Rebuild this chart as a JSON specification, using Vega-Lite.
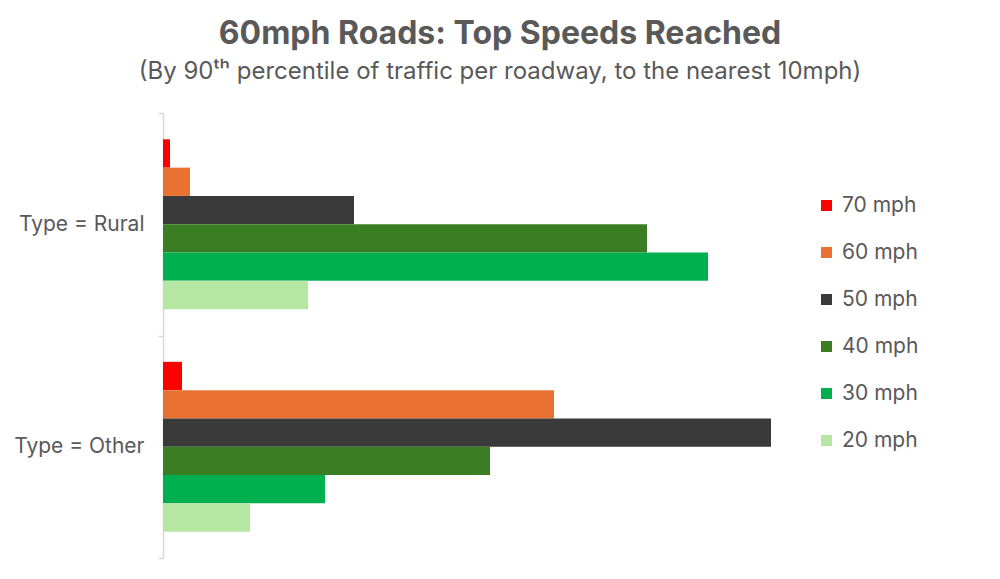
{
  "$schema": "https://vega.github.io/schema/vega-lite/v6.json",
  "autosize": {"type": "none"},
  "padding": {"left": 163, "top": 113, "right": 217, "bottom": 21},
  "width": 620,
  "height": 445,
  "title": {
    "text": "60mph Roads: Top Speeds Reached",
    "subtitle": "(By 90ᵗʰ percentile of traffic per roadway, to the nearest 10mph)",
    "anchor": "middle",
    "frame": "group",
    "dx": 27,
    "offset": 17,
    "limit": 1000,
    "font": "Inter",
    "fontSize": 32,
    "fontWeight": "bold",
    "color": "#595959",
    "subtitleFont": "Inter",
    "subtitleFontSize": 24,
    "subtitleColor": "#595959",
    "subtitlePadding": 9
  },
  "data": {
    "values": [
      {"type": "Type = Rural", "speed": "70 mph", "count": 7},
      {"type": "Type = Rural", "speed": "60 mph", "count": 27},
      {"type": "Type = Rural", "speed": "50 mph", "count": 191},
      {"type": "Type = Rural", "speed": "40 mph", "count": 484},
      {"type": "Type = Rural", "speed": "30 mph", "count": 545},
      {"type": "Type = Rural", "speed": "20 mph", "count": 145},
      {"type": "Type = Other", "speed": "70 mph", "count": 19},
      {"type": "Type = Other", "speed": "60 mph", "count": 391},
      {"type": "Type = Other", "speed": "50 mph", "count": 608},
      {"type": "Type = Other", "speed": "40 mph", "count": 327},
      {"type": "Type = Other", "speed": "30 mph", "count": 162},
      {"type": "Type = Other", "speed": "20 mph", "count": 87}
    ]
  },
  "mark": {"type": "bar"},
  "encoding": {
    "y": {
      "field": "type",
      "type": "nominal",
      "sort": ["Type = Rural", "Type = Other"],
      "scale": {"paddingInner": 0, "paddingOuter": 0},
      "axis": {
        "title": null,
        "ticks": true,
        "tickBand": "extent",
        "domainColor": "#d9d9d9",
        "domainWidth": 1.5,
        "tickColor": "#d9d9d9",
        "tickWidth": 1.5,
        "tickSize": 5,
        "labelFont": "Inter",
        "labelFontSize": 21,
        "labelColor": "#595959",
        "labelPadding": 14
      }
    },
    "yOffset": {
      "field": "speed",
      "type": "nominal",
      "sort": ["70 mph", "60 mph", "50 mph", "40 mph", "30 mph", "20 mph"],
      "scale": {"paddingInner": 0, "paddingOuter": 0.93}
    },
    "x": {
      "field": "count",
      "type": "quantitative",
      "scale": {"domain": [0, 620], "nice": false},
      "axis": null
    },
    "color": {
      "field": "speed",
      "type": "nominal",
      "sort": ["70 mph", "60 mph", "50 mph", "40 mph", "30 mph", "20 mph"],
      "scale": {
        "domain": ["70 mph", "60 mph", "50 mph", "40 mph", "30 mph", "20 mph"],
        "range": ["#FF0000", "#E97132", "#3A3A3A", "#3B7D23", "#00B050", "#B5E6A2"]
      },
      "legend": {
        "title": null,
        "orient": "none",
        "legendX": 653,
        "legendY": 82,
        "symbolType": "square",
        "symbolSize": 121,
        "symbolStrokeWidth": 0,
        "labelFont": "Inter",
        "labelFontSize": 21,
        "labelColor": "#595959",
        "labelOffset": 5,
        "rowPadding": 25
      }
    }
  },
  "config": {
    "view": {"stroke": null},
    "background": "white"
  }
}
